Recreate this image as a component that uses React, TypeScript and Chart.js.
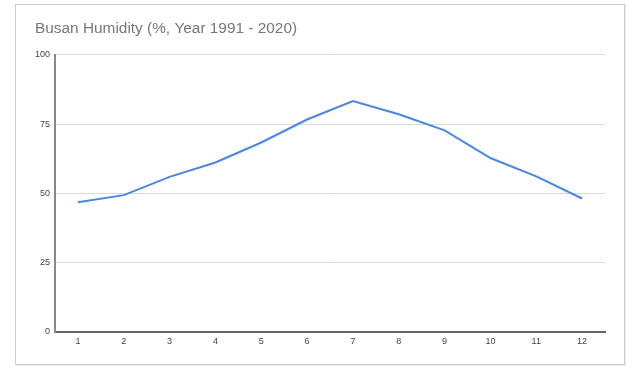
import React, { useEffect, useRef } from "react";
import { Chart, registerables } from "chart.js";

Chart.register(...registerables);

const months: string[] = ["1", "2", "3", "4", "5", "6", "7", "8", "9", "10", "11", "12"];
const humidity: number[] = [46.8, 49.4, 56.0, 61.2, 68.4, 76.7, 83.4, 78.6, 72.8, 62.8, 56.2, 48.2];
const yTicks: number[] = [0, 25, 50, 75, 100];
const titleText = "Busan Humidity (%, Year 1991 - 2020)";

export default function App() {
  const ref = useRef<HTMLCanvasElement | null>(null);

  useEffect(() => {
    if (!ref.current) return;
    const chart = new Chart(ref.current, {
      type: "line",
      data: {
        labels: months,
        datasets: [
          {
            data: humidity,
            borderColor: "#4a86e8",
            borderWidth: 2,
            pointRadius: 0,
            pointHoverRadius: 0,
            tension: 0,
            fill: false,
          },
        ],
      },
      options: {
        responsive: false,
        animation: false,
        layout: { padding: { left: 35, right: 35, top: 18, bottom: 0 } },
        plugins: {
          legend: { display: false },
          tooltip: { enabled: false },
          title: {
            display: true,
            text: titleText,
            align: "start",
            color: "#777777",
            font: { family: "'Liberation Sans', Arial, sans-serif", size: 15.4, weight: "normal" },
            padding: { top: 1.5, bottom: 17 },
          },
        },
        scales: {
          x: {
            type: "category",
            offset: true,
            grid: { display: false, drawTicks: false },
            border: { display: true, color: "#666666", width: 2 },
            ticks: {
              color: "#444444",
              padding: 4,
              maxRotation: 0,
              font: { family: "'Liberation Sans', Arial, sans-serif", size: 9 },
            },
            afterFit: (scale: any) => {
              scale.height = 38;
            },
          },
          y: {
            min: 0,
            max: 100,
            afterBuildTicks: (scale: any) => {
              scale.ticks = yTicks.map((v) => ({ value: v }));
            },
            grid: { color: "#d9d9d9", lineWidth: 1, drawTicks: false },
            border: { display: true, color: "#888888", width: 2 },
            ticks: {
              color: "#444444",
              padding: 5,
              font: { family: "'Liberation Sans', Arial, sans-serif", size: 9 },
            },
            afterFit: (scale: any) => {
              scale.width = 20;
            },
          },
        },
      },
    });
    return () => chart.destroy();
  }, []);

  return (
    <div style={{ position: "fixed", left: 0, top: 0, width: 640, height: 370, background: "#ffffff" }}>
      <div
        style={{
          position: "absolute",
          left: 15,
          top: 4,
          width: 610,
          height: 361,
          border: "1px solid #cccccc",
          boxShadow: "1px 1px 1px rgba(0,0,0,0.08)",
          boxSizing: "border-box",
        }}
      />
      <canvas ref={ref} width={640} height={370} style={{ position: "absolute", left: 0, top: 0, width: 640, height: 370 }} />
    </div>
  );
}
